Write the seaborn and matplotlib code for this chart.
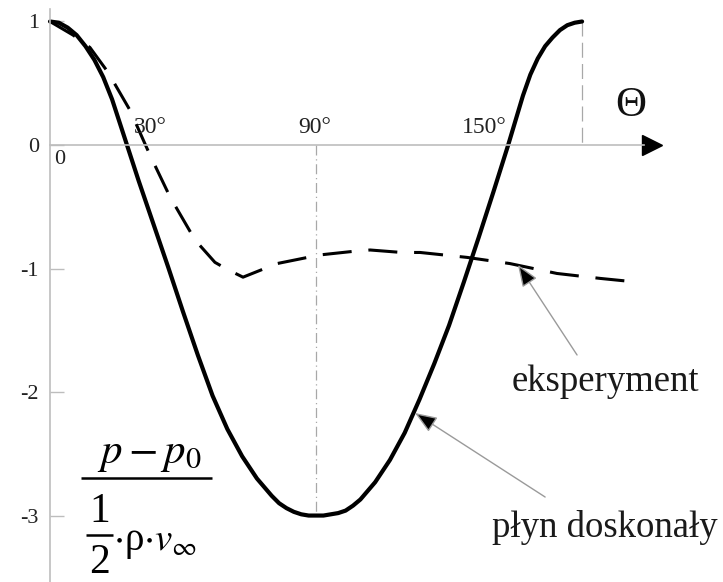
import matplotlib
matplotlib.use("Agg")
import matplotlib.pyplot as plt
import seaborn as sns
import pandas as pd

# Pressure coefficient around a circular cylinder, theta in degrees
theta_ideal = [0, 3, 6, 9, 12, 15, 18, 21, 24, 27, 30, 33, 36, 40, 45, 50, 55, 60,
               65, 70, 75, 77.5, 80, 82.5, 85, 87.5, 90, 92.5, 95, 97.5, 100,
               102.5, 105, 110, 115, 120, 125, 130, 135, 140, 145, 150, 155,
               157.5, 160, 162.5, 165, 167.5, 170, 172.5, 175, 177.5, 180]
cp_ideal = [1.00, 0.99, 0.95, 0.89, 0.80, 0.69, 0.55, 0.37, 0.15, -0.07, -0.29,
            -0.50, -0.71, -0.99, -1.35, -1.70, -2.03, -2.30,
            -2.52, -2.70, -2.84, -2.90, -2.94, -2.97, -2.99, -3.00, -3.00, -3.00,
            -2.99, -2.98, -2.96, -2.92, -2.87, -2.73, -2.55, -2.33, -2.06, -1.77,
            -1.46, -1.11, -0.75, -0.38, 0.00, 0.20, 0.40, 0.57, 0.70, 0.80, 0.87,
            0.93, 0.97, 0.99, 1.00]

theta_exp = [0, 7.8, 13.5, 19.6, 27.1, 33.8, 40.6, 49.1, 55.8, 60.2, 65.3, 76.8,
             91.3, 103, 108.3, 119, 125.2, 141.1, 155.6, 171.5, 186.1, 198.6]
cp_exp = [1.0, 0.89, 0.79, 0.59, 0.28, -0.08, -0.42, -0.77, -0.95, -1.01, -1.07, -0.96,
          -0.89, -0.86, -0.85, -0.87, -0.87, -0.91, -0.96, -1.04, -1.08, -1.11]

y_ticks = [1, 0, -1, -2, -3]
angle_labels = ["30°", "90°", "150°"]
angle_label_pos = [33.8, 89.6, 147.0]

ideal = pd.DataFrame({"theta": theta_ideal, "cp": cp_ideal})
exp = pd.DataFrame({"theta": theta_exp, "cp": cp_exp})

sns.set_theme(style="white")
plt.rcParams["font.family"] = ["Liberation Serif", "DejaVu Serif"]
plt.rcParams["mathtext.fontset"] = "stix"
plt.rcParams["axes.unicode_minus"] = False

fig = plt.figure(figsize=(7.23, 5.82), dpi=100)
ax = fig.add_axes([0, 0, 1, 1])
ax.set_xlim(-16.91, 227.67)
ax.set_ylim(-3.538, 1.174)

grey = "#bdbdbd"

# axes crossing at the origin
for side in ("top", "right"):
    ax.spines[side].set_visible(False)
ax.spines["left"].set_position(("data", 0))
ax.spines["bottom"].set_position(("data", 0))
ax.spines["left"].set_bounds(-3.6, 1.1)
ax.spines["bottom"].set_bounds(0, 201)
for side in ("left", "bottom"):
    ax.spines[side].set_color(grey)
    ax.spines[side].set_linewidth(1.2)
ax.plot([203.7], [0], marker=">", ms=14, color="black", clip_on=False, lw=0)

ax.set_xticks([])
ax.set_yticks(y_ticks)
ax.set_yticklabels([str(v) for v in y_ticks])
ax.tick_params(axis="y", direction="in", length=10, width=1, color=grey,
               pad=8, labelsize=16, labelcolor="#222222", left=True)
ax.grid(False)

# guide lines at 90 and 180 degrees
ax.plot([90, 90], [0, -3], color="#a8a8a8", lw=0.9, ls=(0, (8, 3, 1, 3)))
ax.plot([180, 180], [1, 0], color="#a8a8a8", lw=0.9, ls=(0, (12, 5)))

# curves
sns.lineplot(data=ideal, x="theta", y="cp", ax=ax, color="black", lw=3.0,
             sort=False, estimator=None, solid_capstyle="round",
             solid_joinstyle="round")
sns.lineplot(data=exp, x="theta", y="cp", ax=ax, color="black", lw=2.2,
             sort=False, estimator=None, linestyle=(0, (9.5, 5.5)))
ax.set_xlabel("")
ax.set_ylabel("")

# angle labels
for lab, pos in zip(angle_labels, angle_label_pos):
    ax.text(pos, 0.06, lab, ha="center", va="bottom", fontsize=17, color="#222222")
ax.text(3.4, -0.12, "0", ha="center", va="center", fontsize=16, color="#222222")
ax.text(196.5, 0.32, "Θ", ha="center", va="center", fontsize=31, color="#111111")

# annotations
arrow = dict(arrowstyle="-|>,head_length=0.9,head_width=0.35", fc="black",
             ec="#9a9a9a", lw=1.0, shrinkA=0, shrinkB=0, mutation_scale=15)
ax.annotate("", xy=(158.3, -0.97), xytext=(178.3, -1.70), arrowprops=arrow)
ax.annotate("", xy=(123.5, -2.17), xytext=(167.5, -2.85), arrowprops=arrow)
ax.text(187.8, -1.92, "eksperyment", ha="center", va="center", fontsize=26.5, color="#1a1a1a")
ax.text(187.8, -3.10, "płyn doskonały", ha="center", va="center", fontsize=26.5, color="#1a1a1a")

# ordinate label: (p - p0) / (1/2 rho v_inf)
ax.text(33.8, -2.51, r"$p - p_0$", ha="center", va="center", fontsize=31, color="black")
ax.plot([10.5, 54.8], [-2.70, -2.70], color="black", lw=1.8, solid_capstyle="butt")
ax.text(16.9, -2.97, "1", ha="center", va="center", fontsize=30, color="black")
ax.plot([12.2, 21.3], [-3.16, -3.16], color="black", lw=1.8, solid_capstyle="butt")
ax.text(16.9, -3.38, "2", ha="center", va="center", fontsize=30, color="black")
ax.text(21.3, -3.22, r"$\cdot$ρ$\cdot v_{\infty}$", ha="left", va="center",
        fontsize=28, color="black")

fig.savefig("out.png", dpi=100)
